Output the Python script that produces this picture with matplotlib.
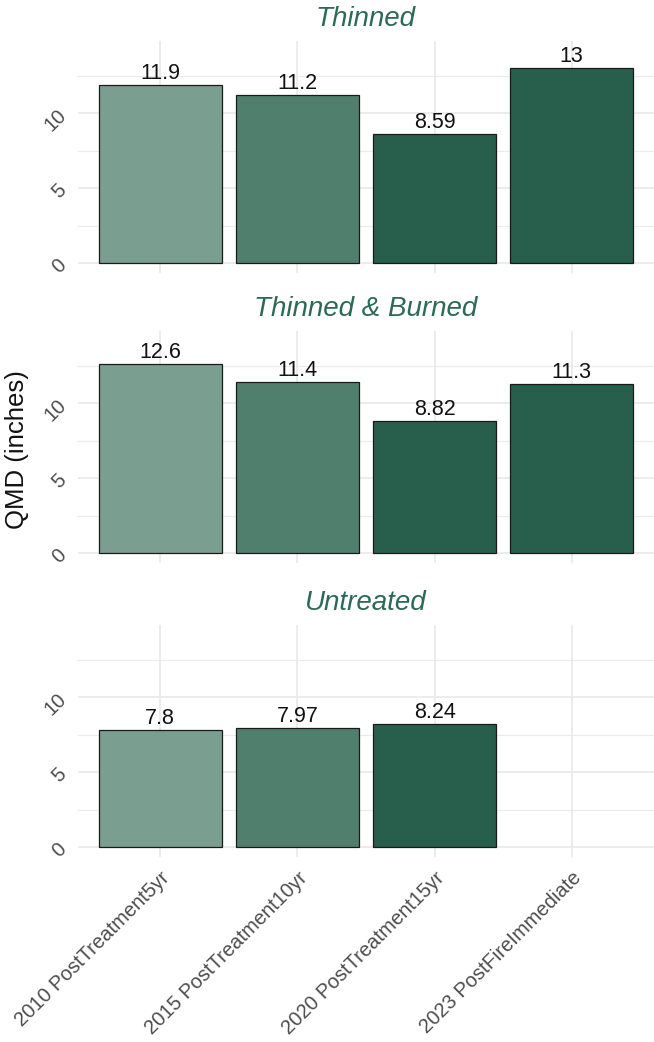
import matplotlib
matplotlib.use("Agg")
import matplotlib.pyplot as plt
import numpy as np

plt.rcParams['font.family'] = ['Liberation Sans', 'DejaVu Sans']

periods = ["2010 PostTreatment5yr", "2015 PostTreatment10yr",
           "2020 PostTreatment15yr", "2023 PostFireImmediate"]
treatments = ["Thinned", "Thinned & Burned", "Untreated"]
thinned = [11.9, 11.2, 8.59, 13]
thinned_burned = [12.6, 11.4, 8.82, 11.3]
untreated = [7.8, 7.97, 8.24, np.nan]
qmd = [thinned, thinned_burned, untreated]

bar_colors = ["#7a9e8f", "#507f6e", "#285e4c", "#285e4c"]
title_color = "#2d6a55"
grid_color = "#ebebeb"

fig = plt.figure(figsize=(6.54, 10.42), dpi=100)

# panel positions in pixels, converted to figure fraction below
left = 78 / 654
width = 1 - left
tops = [41, 331, 625]
h = 232

x = np.arange(1, len(periods) + 1)
for i, (name, vals) in enumerate(zip(treatments, qmd)):
    bottom = 1 - (tops[i] + h) / 1042
    ax = fig.add_axes([left, bottom, width, h / 1042])
    vals = np.array(vals, dtype=float)
    ok = ~np.isnan(vals)
    ax.bar(x[ok], vals[ok], width=0.9, color=[c for c, k in zip(bar_colors, ok) if k],
           edgecolor="#1a1a1a", linewidth=0.9, zorder=3)
    for xi, v in zip(x[ok], vals[ok]):
        ax.text(xi, v + 0.05, f"{v:.3g}", ha="center", va="bottom",
                fontsize=15.5, color="#111111", zorder=4)

    ax.set_xlim(0.4, 4.6)
    ax.set_ylim(-0.65, 14.8)
    ax.set_yticks([0, 5, 10])
    ax.set_yticks([2.5, 7.5, 12.5], minor=True)
    ax.set_xticks(x)
    ax.grid(True, which="major", color=grid_color, linewidth=1.3, zorder=0)
    ax.grid(True, which="minor", axis="y", color=grid_color, linewidth=0.8, zorder=0)
    ax.tick_params(which="both", length=0)
    ax.tick_params(axis="y", pad=6)
    ax.tick_params(axis="x", pad=8)
    for s in ax.spines.values():
        s.set_visible(False)
    for lab in ax.get_yticklabels():
        lab.set_rotation(45)
        lab.set_color("#4d4d4d")
        lab.set_fontsize(14.5)
    ax.set_title(name, fontsize=20, style="italic", color=title_color, pad=11)
    if i < 2:
        ax.set_xticklabels([])
    else:
        ax.set_xticklabels(periods, rotation=45, ha="right", rotation_mode="anchor",
                           fontsize=14.5, color="#4d4d4d")

fig.text(0.026, 1 - 450 / 1042, "QMD (inches)", rotation=90, ha="center", va="center",
         fontsize=18.5, color="#111111")

fig.savefig("out.png", dpi=100)
